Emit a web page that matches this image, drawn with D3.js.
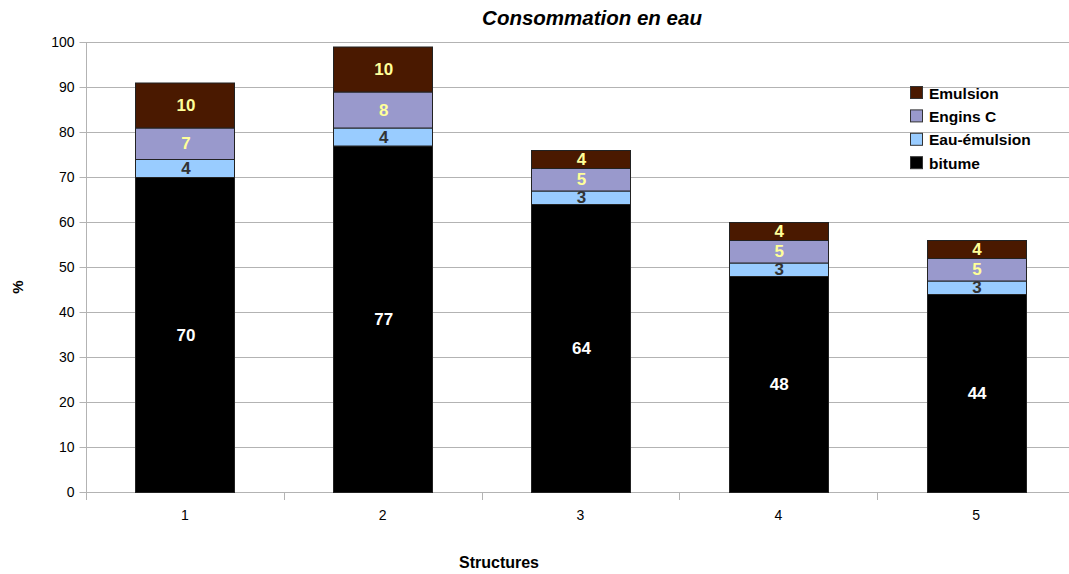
<!DOCTYPE html>
<html><head><meta charset="utf-8">
<script src="https://cdn.jsdelivr.net/npm/d3@7"></script>
<style>html,body{margin:0;padding:0;background:#fff;overflow:hidden}svg{display:block;font-family:"Liberation Sans",Arial,sans-serif}</style>
</head><body><svg id="c" width="1069" height="574"></svg>
<script>
const categories = ["1","2","3","4","5"];
const bitume = [70,77,64,48,44];
const eauEmulsion = [4,4,3,3,3];
const enginsC = [7,8,5,5,5];
const emulsion = [10,10,4,4,4];
const yTicks = [0,10,20,30,40,50,60,70,80,90,100];
const seriesNames = ["bitume","Eau-émulsion","Engins C","Emulsion"];
const seriesColors = ["#000000","#99ccff","#9999cc","#4a1900"];
const labelColors = ["#ffffff","#333333","#ffff99","#ffff99"];

const rows = categories.map((c,i)=>({cat:c,"bitume":bitume[i],"Eau-émulsion":eauEmulsion[i],"Engins C":enginsC[i],"Emulsion":emulsion[i]}));
const stack = d3.stack().keys(seriesNames)(rows);

const svg = d3.select("#c");
const L=86, R=1075, T=42, B=492;
const x = d3.scaleBand().domain(categories).range([L,R]).paddingInner(0.5).paddingOuter(0.25);
const xb = d3.scaleBand().domain(categories).range([L,R]);
const y = d3.scaleLinear().domain([0,100]).range([B,T]);

svg.append("g").selectAll("line").data(yTicks).join("line")
  .attr("x1",L).attr("x2",R).attr("y1",d=>y(d)+0.5).attr("y2",d=>y(d)+0.5)
  .attr("stroke","#b3b3b3").attr("stroke-width",1);

const ya = svg.append("g").attr("transform",`translate(${L+0.5},0)`)
  .call(d3.axisLeft(y).tickValues(yTicks).tickSize(7).tickPadding(5));
ya.select(".domain").attr("stroke","#b3b3b3").attr("d",`M-0,${B+8}V${T}`);
ya.selectAll(".tick line").attr("stroke","#b3b3b3");
ya.selectAll("text").attr("font-size",14).attr("fill","#000").attr("font-family","Liberation Sans, Arial, sans-serif");

const xa = svg.append("g").attr("transform",`translate(0,${B+0.5})`)
  .call(d3.axisBottom(xb).tickSize(0).tickPadding(18));
xa.select(".domain").remove();
xa.selectAll("text").attr("font-size",14).attr("fill","#000").attr("font-family","Liberation Sans, Arial, sans-serif");
svg.append("g").selectAll("line").data(categories).join("line")
  .attr("x1",d=>Math.round(xb(d))+0.5).attr("x2",d=>Math.round(xb(d))+0.5)
  .attr("y1",B).attr("y2",B+8).attr("stroke","#b3b3b3");

stack.forEach((s,si)=>{
  svg.append("g").selectAll("rect").data(s).join("rect")
    .attr("x",d=>Math.round(x(d.data.cat))+0.5)
    .attr("width",Math.round(x.bandwidth()))
    .attr("y",d=>y(d[1])+0.5)
    .attr("height",d=>y(d[0])-y(d[1]))
    .attr("fill",seriesColors[si]).attr("stroke","#222").attr("stroke-width",1);
});
stack.forEach((s,si)=>{
  svg.append("g").selectAll("text").data(s).join("text")
    .attr("x",d=>x(d.data.cat)+x.bandwidth()/2+1)
    .attr("y",d=>(y(d[0])+y(d[1]))/2)
    .attr("dy","0.36em").attr("text-anchor","middle")
    .attr("font-size",17).attr("font-weight","bold")
    .attr("fill",labelColors[si])
    .text(d=>d[1]-d[0]);
});

svg.append("text").attr("x",592).attr("y",25).attr("text-anchor","middle")
  .attr("font-size",20.5).attr("font-weight","bold").attr("font-style","italic").text("Consommation en eau");
svg.append("text").attr("x",499).attr("y",568).attr("text-anchor","middle")
  .attr("font-size",16).attr("font-weight","bold").text("Structures");
svg.append("text").attr("transform","translate(23,287) rotate(-90)").attr("text-anchor","middle")
  .attr("font-size",15).attr("font-weight","bold").text("%");

const legOrder = ["Emulsion","Engins C","Eau-émulsion","bitume"];
const lg = svg.append("g");
legOrder.forEach((n,i)=>{
  const si = seriesNames.indexOf(n);
  const yy = 86 + i*23.4;
  lg.append("rect").attr("x",910.5).attr("y",yy+0.5).attr("width",12).attr("height",12)
    .attr("fill",seriesColors[si]).attr("stroke","#333");
  lg.append("text").attr("x",929).attr("y",yy+12.5).attr("font-size",15.5).attr("font-weight","bold").text(n);
});
</script></body></html>
